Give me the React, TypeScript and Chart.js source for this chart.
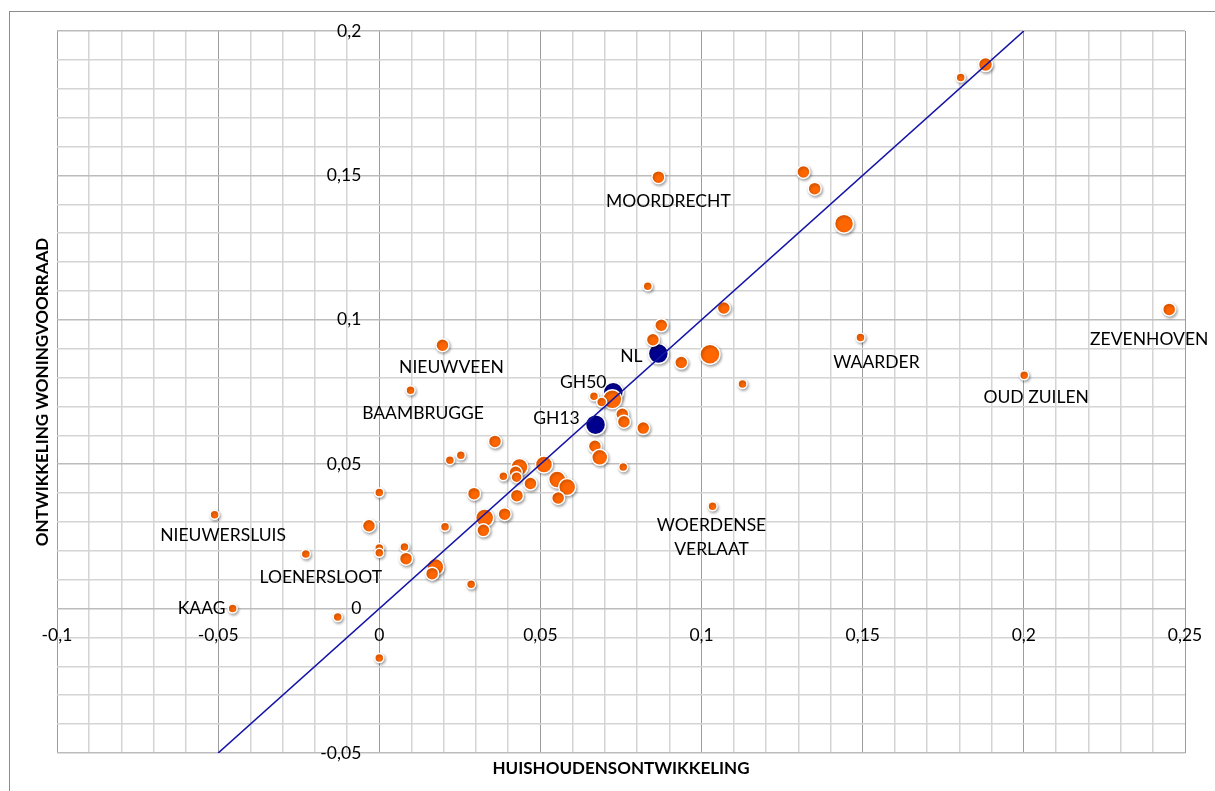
import React, { useEffect, useRef } from 'react';
import { Chart, registerables } from 'chart.js';

Chart.register(...registerables);

// ---- data ----
const xTicks = [-0.1, -0.05, 0, 0.05, 0.1, 0.15, 0.2, 0.25];
const yTicks = [-0.05, 0, 0.05, 0.1, 0.15, 0.2];
const xTitle = 'HUISHOUDENSONTWIKKELING';
const yTitle = 'ONTWIKKELING WONINGVOORRAAD';

const kernX = [
  0.1881, 0.1804, 0.0866, 0.1316, 0.1351, 0.1442, 0.0833, 0.1069, 0.0875, 0.0849,
  0.1026, 0.0937, 0.1493, 0.1127, 0.2451, 0.2001, 0.0196, 0.0097, 0.0723, 0.0666,
  0.069, 0.0754, 0.0759, 0.0819, 0.0669, 0.0684, 0.0757, 0.1034, 0.0359, 0.0219,
  0.0253, 0, 0.0435, 0.0423, 0.0426, 0.0385, 0.0511, 0.0469, 0.0552, 0.0583,
  0.0555, 0.0427, 0.0294, 0.0389, 0.0327, 0.0323, 0.0204, -0.0032, 0, 0,
  0.0078, 0.0083, 0.0174, 0.0164, 0.0285, -0.0228, -0.0511, -0.0455, -0.0129, 0,
];
const kernY = [
  0.1884, 0.1839, 0.1494, 0.1512, 0.1454, 0.1333, 0.1116, 0.1041, 0.0981, 0.0931,
  0.0881, 0.0852, 0.0939, 0.0778, 0.1036, 0.0808, 0.0912, 0.0756, 0.0725, 0.0735,
  0.0715, 0.0673, 0.0647, 0.0625, 0.0562, 0.0524, 0.049, 0.0354, 0.0579, 0.0514,
  0.0531, 0.0402, 0.049, 0.0472, 0.0455, 0.0458, 0.0499, 0.0433, 0.0447, 0.0421,
  0.0383, 0.0391, 0.0398, 0.0327, 0.0314, 0.0271, 0.0283, 0.0287, 0.021, 0.0193,
  0.0213, 0.0173, 0.0144, 0.0121, 0.0084, 0.0189, 0.0325, 0, -0.0029, -0.0171,
];
const kernSize = [
  7, 4.5, 6.5, 6.5, 6.5, 9.5, 4.5, 6.5, 6.5, 6.5,
  10, 6.5, 4.5, 4.5, 6.5, 4.5, 6.5, 4.5, 9.5, 4.5,
  5, 6.5, 6.5, 6.5, 6.5, 8, 4.5, 4.5, 6.5, 4.5,
  4.5, 4.5, 8.5, 6.5, 5.5, 4.5, 8.5, 6.5, 8.5, 8.5,
  6.5, 6.5, 6.5, 6.5, 9, 6.5, 4.5, 6.5, 4.5, 4.5,
  4.5, 6.5, 8.5, 6.5, 4.5, 4.5, 4.5, 4.5, 4.5, 4.5,
];
const kernName = [
  '', '', 'MOORDRECHT', '', '', '', '', '', '', '',
  '', '', 'WAARDER', '', 'ZEVENHOVEN', 'OUD ZUILEN', 'NIEUWVEEN', 'BAAMBRUGGE', '', '',
  '', '', '', '', '', '', '', 'WOERDENSE\nVERLAAT', '', '',
  '', '', '', '', '', '', '', '', '', '',
  '', '', '', '', '', '', '', '', '', '',
  '', '', '', '', '', 'LOENERSLOOT', 'NIEUWERSLUIS', 'KAAG', '', '',
];

const refName = ['NL', 'GH50', 'GH13'];
const refX = [0.0866, 0.0726, 0.0671];
const refY = [0.0883, 0.0749, 0.0637];
const refSize = [10, 10, 10];

const diagX = [-0.05, 0.2];
const diagY = [-0.05, 0.2];

// ---- label placement (pixels relative to the point) ----
const labelOffsets: Record<string, [number, number]> = {
  MOORDRECHT: [10, 24],
  WAARDER: [16, 25],
  ZEVENHOVEN: [-20, 30],
  'OUD ZUILEN': [12, 22],
  NIEUWVEEN: [9, 22],
  BAAMBRUGGE: [12.5, 23],
  'WOERDENSE\nVERLAAT': [-1, 19],
  LOENERSLOOT: [15, 23],
  NIEUWERSLUIS: [8.5, 21],
  KAAG: [-31, 0],
  NL: [-27, 3],
  GH50: [-30, -10],
  GH13: [-39, -6],
};

const FONT = 'Lato, "Open Sans", sans-serif';
const ORANGE = '#FF6600';
const NAVY = '#00008F';

const fmt = (v: number) => String(v).replace('.', ',');
const isMajor = (v: number) => Math.abs(v * 20 - Math.round(v * 20)) < 1e-6;

const annotate = {
  id: 'annotate',
  beforeDatasetDraw(chart: any, args: any) {
    if (args.meta.type === 'line') return;
    const ctx = chart.ctx;
    ctx.save();
    ctx.shadowColor = 'rgba(0,0,0,0.35)';
    ctx.shadowBlur = 3;
    ctx.shadowOffsetX = 1;
    ctx.shadowOffsetY = 1.5;
  },
  afterDatasetDraw(chart: any, args: any) {
    if (args.meta.type === 'line') return;
    chart.ctx.restore();
  },
  afterDraw(chart: any) {
    const ctx = chart.ctx;
    const xs = chart.scales.x;
    const ys = chart.scales.y;
    const area = chart.chartArea;
    const x0 = xs.getPixelForValue(0);
    const y0 = ys.getPixelForValue(0);
    ctx.save();
    ctx.fillStyle = '#000';
    ctx.font = `17.5px ${FONT}`;
    // x tick labels
    ctx.textAlign = 'center';
    ctx.textBaseline = 'middle';
    xTicks.forEach((v) => ctx.fillText(fmt(v), xs.getPixelForValue(v), y0 + 27));
    // y tick labels
    ctx.textAlign = 'right';
    yTicks.forEach((v) => ctx.fillText(fmt(v), x0 - 18, ys.getPixelForValue(v)));
    // point labels
    ctx.textAlign = 'center';
    const drawLabel = (name: string, x: number, y: number) => {
      const off = labelOffsets[name] || [0, 20];
      const px = xs.getPixelForValue(x) + off[0];
      const py = ys.getPixelForValue(y) + off[1];
      name.split('\n').forEach((line, i) => ctx.fillText(line, px, py + i * 24));
    };
    kernName.forEach((n, i) => { if (n) drawLabel(n, kernX[i], kernY[i]); });
    refName.forEach((n, i) => drawLabel(n, refX[i], refY[i]));
    // axis titles
    ctx.font = `bold 17px ${FONT}`;
    ctx.textAlign = 'center';
    ctx.fillText(xTitle, (area.left + area.right) / 2, area.bottom + 16);
    ctx.translate(43, (area.top + area.bottom) / 2);
    ctx.rotate(-Math.PI / 2);
    ctx.fillText(yTitle, 0, 0);
    ctx.restore();
  },
};

export default function App() {
  const ref = useRef<HTMLCanvasElement | null>(null);
  useEffect(() => {
    if (!ref.current) return;
    const chart = new Chart(ref.current, {
      type: 'bubble',
      data: {
        datasets: [
          {
            type: 'line',
            data: diagX.map((x, i) => ({ x, y: diagY[i] })),
            borderColor: '#1414A8',
            borderWidth: 1.6,
            pointRadius: 0,
            fill: false,
            order: 0,
          } as any,
          {
            data: kernX.map((x, i) => ({ x, y: kernY[i], r: kernSize[i] })),
            backgroundColor: ORANGE,
            borderColor: '#ffffff',
            borderWidth: 1.5,
            order: 1,
          },
          {
            data: refX.map((x, i) => ({ x, y: refY[i], r: refSize[i] })),
            backgroundColor: NAVY,
            borderColor: '#ffffff',
            borderWidth: 1.5,
            order: 2,
          },
        ],
      },
      options: {
        responsive: false,
        animation: false,
        events: [],
        layout: { padding: { left: 57, top: 31, right: 30, bottom: 38 } },
        plugins: { legend: { display: false }, tooltip: { enabled: false } },
        scales: {
          x: {
            type: 'linear',
            min: -0.1,
            max: 0.25,
            border: { display: false },
            ticks: { display: false, stepSize: 0.01, maxTicksLimit: 200 },
            grid: {
              drawTicks: false,
              color: (c: any) => (c.tick && isMajor(c.tick.value) ? '#9c9c9c' : '#d4d4d4'),
              lineWidth: (c: any) => (c.tick && isMajor(c.tick.value) ? 1 : 1.5),
            },
          },
          y: {
            type: 'linear',
            min: -0.05,
            max: 0.2,
            border: { display: false },
            ticks: { display: false, stepSize: 0.01, maxTicksLimit: 200 },
            grid: {
              drawTicks: false,
              color: (c: any) => (c.tick && isMajor(c.tick.value) ? '#bcbcbc' : '#d4d4d4'),
              lineWidth: 1.5,
            },
          },
        },
      },
      plugins: [annotate],
    });
    return () => chart.destroy();
  }, []);

  return (
    <div style={{ position: 'absolute', left: 0, top: 0, width: 1215, height: 791, overflow: 'hidden', background: '#fff' }}>
      <div
        style={{
          position: 'absolute',
          left: 9,
          top: 10.5,
          width: 1300,
          height: 900,
          border: '1.5px solid #8c8c8c',
        }}
      />
      <canvas ref={ref} width={1215} height={791} style={{ position: 'absolute', left: 0, top: 0, width: 1215, height: 791 }} />
    </div>
  );
}
